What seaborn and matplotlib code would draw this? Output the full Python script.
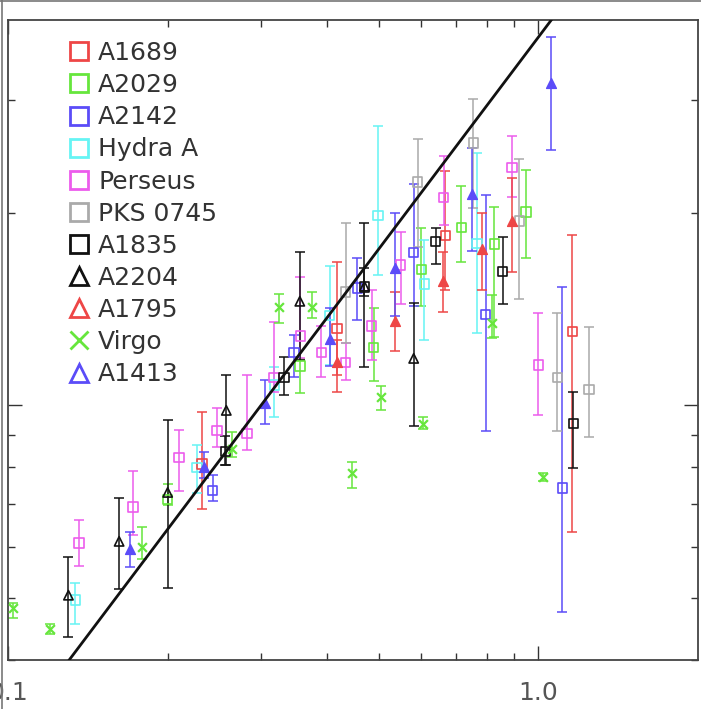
import numpy as np
import matplotlib
matplotlib.use("Agg")
import matplotlib.pyplot as plt
import seaborn as sns
from matplotlib.lines import Line2D
from matplotlib.ticker import FixedLocator, FixedFormatter, NullFormatter

# ---------------- data ----------------
a1689_x = [0.232, 0.417, 0.668, 1.159]
a1689_y = [0.809, 1.319, 1.843, 1.305]
a1689_lo = [0.688, 1.114, 1.513, 0.633]
a1689_hi = [0.975, 1.673, 2.321, 1.843]

a2029_x = [0.200, 0.355, 0.489, 0.602, 0.716, 0.826, 0.949]
a2029_y = [0.713, 1.151, 1.232, 1.631, 1.897, 1.785, 2.003]
a2029_lo = [0.698, 1.044, 1.090, 1.427, 1.673, 1.277, 1.697]
a2029_hi = [0.753, 1.180, 1.418, 1.890, 2.199, 2.039, 2.329]

a2142_x = [0.243, 0.346, 0.456, 0.582, 0.795, 1.110]
a2142_y = [0.736, 1.210, 1.524, 1.734, 1.387, 0.742]
a2142_lo = [0.708, 1.106, 1.358, 1.432, 0.911, 0.475]
a2142_hi = [0.777, 1.287, 1.697, 2.215, 2.128, 1.529]

hydra_x = [0.134, 0.227, 0.318, 0.404, 0.498, 0.610, 0.767]
hydra_y = [0.496, 0.800, 1.075, 1.382, 1.981, 1.546, 1.791]
hydra_lo = [0.455, 0.729, 0.958, 1.155, 1.596, 1.264, 1.296]
hydra_hi = [0.527, 0.866, 1.147, 1.649, 2.729, 1.811, 2.476]

perseus_x = [0.136, 0.172, 0.210, 0.2475, 0.282, 0.317, 0.356, 0.390,
             0.433, 0.485, 0.550, 0.6625, 0.893, 1.000]
perseus_y = [0.609, 0.693, 0.829, 0.914, 0.904, 1.106, 1.282, 1.210,
             1.167, 1.329, 1.655, 2.113, 2.354, 1.155]
perseus_lo = [0.560, 0.627, 0.736, 0.860, 0.851, 1.048, 1.184, 1.106,
              1.094, 1.176, 1.438, 1.911, 2.113, 0.965]
perseus_hi = [0.661, 0.789, 0.914, 0.989, 1.114, 1.348, 1.585, 1.329,
              1.250, 1.513, 1.863, 2.449, 2.633, 1.392]

pks_x = [0.433, 0.592, 0.754, 0.921, 1.086, 1.247]
pks_y = [1.502, 2.231, 2.567, 1.939, 1.106, 1.059]
pks_lo = [1.250, 1.766, 2.032, 1.464, 0.911, 0.891]
pks_hi = [1.925, 2.604, 3.007, 2.423, 1.392, 1.324]

a1835_x = [0.257, 0.331, 0.470, 0.640, 0.856, 1.164]
a1835_y = [0.847, 1.106, 1.529, 1.804, 1.619, 0.937]
a1835_lo = [0.806, 1.037, 1.480, 1.661, 1.438, 0.797]
a1835_hi = [0.895, 1.189, 1.637, 1.890, 1.830, 1.048]

a2204_x = [0.130, 0.162, 0.200, 0.258, 0.355, 0.470, 0.582]
a2204_y = [0.505, 0.613, 0.731, 0.982, 1.454, 1.535, 1.184]
a2204_lo = [0.434, 0.516, 0.518, 0.806, 1.176, 1.147, 0.927]
a2204_hi = [0.579, 0.716, 0.947, 1.114, 1.734, 1.925, 1.443]

a1795_x = [0.417, 0.536, 0.660, 0.784, 0.893]
a1795_y = [1.167, 1.353, 1.562, 1.752, 1.939]
a1795_lo = [1.048, 1.214, 1.397, 1.513, 1.613]
a1795_hi = [1.264, 1.502, 1.734, 1.995, 2.263]

virgo_x = [0.102, 0.120, 0.179, 0.265, 0.324, 0.375, 0.446, 0.506,
           0.605, 0.819, 1.022]
virgo_y = [0.482, 0.447, 0.600, 0.854, 1.422, 1.422, 0.783, 1.029,
           0.934, 1.343, 0.772]
virgo_lo = [0.465, 0.439, 0.575, 0.829, 1.343, 1.367, 0.742, 0.982,
            0.917, 1.273, 0.761]
virgo_hi = [0.491, 0.456, 0.645, 0.907, 1.491, 1.502, 0.815, 1.071,
            0.958, 1.485, 0.783]

a1413_x = [0.170, 0.234, 0.305, 0.404, 0.536, 0.751, 1.058]
a1413_y = [0.596, 0.800, 1.007, 1.268, 1.637, 2.136, 3.185]
a1413_lo = [0.558, 0.769, 0.934, 1.151, 1.377, 1.740, 2.503]
a1413_hi = [0.633, 0.844, 1.094, 1.418, 1.995, 2.521, 3.758]

# model line  y = norm * x**slope
line_norm = 3.76
line_slope = 1.1

labels = ["A1689", "A2029", "A2142", "Hydra A", "Perseus", "PKS 0745",
          "A1835", "A2204", "A1795", "Virgo", "A1413"]
x_major = [0.1, 1.0]
x_major_labels = ["0.1", "1.0"]
x_minor = [0.2, 0.3, 0.4, 0.5, 0.6, 0.7, 0.8, 0.9]
y_major = [1.0]
y_minor = [0.4, 0.5, 0.6, 0.7, 0.8, 0.9, 2.0, 3.0]

# ---------------- styling ----------------
RED = "#ee4646"
GREEN = "#66e63c"
BLUE = "#5b4cf8"
CYAN = "#66f4f4"
MAG = "#ec5cec"
GRAY = "#aaaaaa"
BLACK = "#111111"

series = [
    (a1689_x, a1689_y, a1689_lo, a1689_hi, RED, "s", False),
    (a2029_x, a2029_y, a2029_lo, a2029_hi, GREEN, "s", False),
    (a2142_x, a2142_y, a2142_lo, a2142_hi, BLUE, "s", False),
    (hydra_x, hydra_y, hydra_lo, hydra_hi, CYAN, "s", False),
    (perseus_x, perseus_y, perseus_lo, perseus_hi, MAG, "s", False),
    (pks_x, pks_y, pks_lo, pks_hi, GRAY, "s", False),
    (a1835_x, a1835_y, a1835_lo, a1835_hi, BLACK, "s", False),
    (a2204_x, a2204_y, a2204_lo, a2204_hi, BLACK, "^", False),
    (a1795_x, a1795_y, a1795_lo, a1795_hi, RED, "^", True),
    (virgo_x, virgo_y, virgo_lo, virgo_hi, GREEN, "x", True),
    (a1413_x, a1413_y, a1413_lo, a1413_hi, BLUE, "^", True),
]

sns.set_theme(style="white")
plt.rcParams["font.family"] = ["DejaVu Sans"]

fig = plt.figure(figsize=(7.01, 7.09), dpi=100)
ax = fig.add_axes([8 / 701, 49 / 709, 690 / 701, 640 / 709])
ax.set_xscale("log")
ax.set_yscale("log")

for (xs, ys, lo, hi, col, mk, filled) in series:
    xs = np.array(xs); ys = np.array(ys)
    yerr = [ys - np.array(lo), np.array(hi) - ys]
    ax.errorbar(xs, ys, yerr=yerr, fmt="none", ecolor=col, elinewidth=1.1,
                capsize=3.4, capthick=1.1, zorder=2)
    if mk == "x":
        sns.scatterplot(x=xs, y=ys, marker="x", s=40, color=col,
                        linewidth=1.6, ax=ax, zorder=3, legend=False)
    elif filled:
        sns.scatterplot(x=xs, y=ys, marker=mk, s=50, color=col,
                        edgecolor=col, linewidth=1.0, ax=ax, zorder=3,
                        legend=False)
    else:
        sns.scatterplot(x=xs, y=ys, marker=mk, s=48 if mk == "s" else 45,
                        color=col, facecolor="none", edgecolor=col,
                        linewidth=1.2, ax=ax, zorder=3, legend=False)

xx = np.geomspace(0.1, 2.0, 200)
sns.lineplot(x=xx, y=line_norm * xx ** line_slope, color="#111111",
             linewidth=2.0, ax=ax, zorder=4, legend=False)

ax.set_xlim(0.1, 2.0)
ax.set_ylim(0.4, 4.0)
ax.set_xlabel("")
ax.set_ylabel("")

ax.xaxis.set_major_locator(FixedLocator(x_major))
ax.xaxis.set_major_formatter(FixedFormatter(x_major_labels))
ax.xaxis.set_minor_locator(FixedLocator(x_minor))
ax.xaxis.set_minor_formatter(NullFormatter())
ax.yaxis.set_major_locator(FixedLocator(y_major))
ax.yaxis.set_minor_locator(FixedLocator(y_minor))
ax.yaxis.set_major_formatter(NullFormatter())
ax.yaxis.set_minor_formatter(NullFormatter())

ax.tick_params(which="both", direction="in", top=True, right=True,
               bottom=True, left=True, labelleft=False, color="#333333",
               width=1.0)
ax.tick_params(which="major", length=10, pad=15, labelsize=18,
               labelcolor="#555555")
ax.tick_params(which="minor", length=5)
for sp in ax.spines.values():
    sp.set_color("#444444")
    sp.set_linewidth(1.3)

# legend
handles = []
for (xs, ys, lo, hi, col, mk, filled) in series:
    handles.append(Line2D([], [], linestyle="none", marker=mk, markersize=13,
                          markerfacecolor="none", markeredgecolor=col,
                          markeredgewidth=2.0))
leg = ax.legend(handles, labels, loc="upper left",
                bbox_to_anchor=(0.0848, 0.967), frameon=False, fontsize=18,
                handlelength=1.0, handletextpad=0.26, labelspacing=0.325,
                borderpad=0, borderaxespad=0)
for t in leg.get_texts():
    t.set_color("#333333")

# outer border (top and left)
fig.add_artist(Line2D([0.0025, 0.0025], [0, 1], transform=fig.transFigure,
                      color="#777777", linewidth=1.2))
fig.add_artist(Line2D([0, 1], [0.9985, 0.9985], transform=fig.transFigure,
                      color="#777777", linewidth=1.2))

fig.savefig("out.png", dpi=100)
